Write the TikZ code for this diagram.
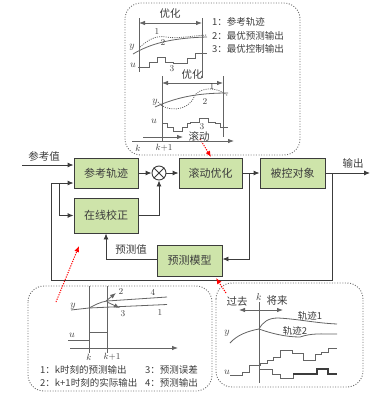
\documentclass[tikz,border=0pt]{standalone}
\usepackage{fontspec}
\newfontfamily\cjk{Noto Sans CJK SC}
\usetikzlibrary{arrows.meta}
\definecolor{boxfill}{RGB}{206,228,170}
\definecolor{ln}{RGB}{60,60,60}
\definecolor{gl}{RGB}{100,100,100}
\definecolor{dotc}{RGB}{110,110,110}
\begin{document}
\begin{tikzpicture}[x=1pt,y=-1pt,
  blk/.style={draw=ln, fill=boxfill, line width=0.9pt, minimum width=64pt, minimum height=30pt,
    font=\cjk\fontsize{11}{11}\selectfont, text=ln, inner sep=0pt},
  con/.style={draw=ln, line width=0.9pt},
  arr/.style={con, -{Latex[length=6pt,width=5pt]}},
  grp/.style={draw=dotc, line width=0.9pt, dash pattern=on 1pt off 1.6pt, rounded corners=16pt},
  ax/.style={draw=gl, line width=0.8pt},
  axarr/.style={ax, -{Latex[length=6pt,width=4.5pt]}},
  dbl/.style={ax, {Latex[length=6pt,width=4.5pt]}-{Latex[length=6pt,width=4.5pt]}},
  crv/.style={draw=gl, line width=0.8pt},
  dcrv/.style={draw=gl, line width=0.8pt, dash pattern=on 1pt off 1.2pt},
  lab/.style={font=\cjk\fontsize{10.5}{10.5}\selectfont, text=ln, inner sep=0pt},
  sml/.style={font=\cjk\fontsize{9.5}{9.5}\selectfont, text=ln, inner sep=0pt},
  mth/.style={font=\fontsize{10}{10}\selectfont, text=ln, inner sep=0pt},
  num/.style={font=\fontsize{9}{9}\selectfont, text=ln, inner sep=0pt},
  rarr/.style={draw=red, line width=1pt, dash pattern=on 1.2pt off 1.2pt, -{Latex[length=6pt,width=5pt]}}
]
\useasboundingbox (0,0) rectangle (375,394);

% ===== dotted group frames =====
\draw[grp] (125,3) rectangle (300,155);
\draw[grp] (28,286) rectangle (212,391);
\draw[grp] (216,283) rectangle (363,387);

% ===== main blocks =====
\node[blk] (ref) at (106,173) {参考轨迹};
\node[blk, minimum height=35pt] (fix) at (106,215.5) {在线校正};
\node[blk, minimum width=63pt] (opt) at (210.5,173) {滚动优化};
\node[blk, minimum width=65pt] (plant) at (292.5,173) {被控对象};
\node[blk, minimum width=65pt, minimum height=31pt] (model) at (189.5,260.5) {预测模型};
\node[draw=ln, fill=white, line width=0.9pt, circle, minimum size=14pt, inner sep=0pt] (sum) at (159,173) {};
\draw[ln, line width=0.9pt] (sum.north west) -- (sum.south east) (sum.north east) -- (sum.south west);

\coordinate (in) at (22,165);
\coordinate (out) at (370,173);
\coordinate (fb1) at (332,173);
\coordinate (fb2) at (332,280);
\coordinate (fb3) at (51,280);
\coordinate (br) at (59,183);
\coordinate (br2) at (249,173);

\node[lab] (lin) at (44,156) {参考值};
\node[lab] (lout) at (353,163) {输出};
\node[lab] (lpred) at (131,250) {预测值};

\draw[arr] (in) -- (in -| ref.west);
\draw[arr] (ref) -- (sum);
\draw[arr] (sum) -- (opt);
\draw[arr] (opt) -- (plant);
\draw[arr] (plant) -- (out);
\draw[arr] (fb1) -- (fb2) -- (fb3) |- ([yshift=-10pt]ref.west);
\draw[arr] (br) |- (fix.west);
\draw[arr] (fix.east) -| (sum.south);
\draw[arr] (br2) |- ([yshift=1.5pt]model.east);
\draw[arr] ([yshift=1.5pt]model.west) -| (fix.south);

% ===== red dotted pointers =====
\coordinate (ra1) at (200,139);
\coordinate (rb1) at (211,157);
\coordinate (ra2) at (56,302);
\coordinate (rb2) at (79,246);
\coordinate (ra3) at (226,293);
\coordinate (rb3) at (216,278);
\draw[rarr] (ra1) -- (rb1);
\draw[rarr] (ra2) -- (rb2);
\draw[rarr] (ra3) -- (rb3);

% ===== top frame: upper chart =====
\draw[ax] (139,18) -- (139,72);
\draw[ax] (202,18) -- (202,78);
\draw[dbl] (139,23) -- (202,23);
\node[lab] at (170,14) {优化};
\node[mth] at (132,47) {$y$};
\node[mth] at (133,65) {$u$};
\draw[crv] (133,54) .. controls (150,44) and (170,38) .. (207,37);
\draw[dcrv] (140,47) .. controls (148,40) and (156,35) .. (166,37) .. controls (176,39) and (190,36) .. (207,35);
\node[num] at (157,32) {1};
\node[num] at (163,43) {2};
\draw[crv] (138,67) -- (149,67) -- (149,62) -- (157,62) -- (157,57) -- (165,57) -- (165,62) -- (173,62) -- (173,63) -- (187,63) -- (187,58) -- (195,58) -- (195,53) -- (207,53);
\node[num] at (172,69) {3};
\node[sml, anchor=west] at (212,22) {1：参考轨迹};
\node[sml, anchor=west] at (212,35.5) {2：最优预测输出};
\node[sml, anchor=west] at (212,49) {3：最优控制输出};

% ===== top frame: lower chart =====
\draw[ax] (162,76) -- (162,141);
\draw[ax] (223,76) -- (223,137);
\draw[dbl] (162,83) -- (223,83);
\node[lab] at (192,75) {优化};
\node[mth] at (155,102) {$y$};
\node[mth] at (154,121) {$u$};
\draw[crv] (155,107) .. controls (175,98) and (195,93) .. (228,93);
\draw[dcrv] (158,102) .. controls (165,112) and (188,112) .. (194,97) .. controls (198,88) and (215,85) .. (228,96);
\node[num] at (212,87) {1};
\node[num] at (205,102) {2};
\draw[crv] (162,123) -- (167,123) -- (167,127) -- (173,127) -- (173,131) -- (182,131) -- (182,127) -- (187,127) -- (187,123) -- (190,123) -- (190,122) -- (199,122) -- (199,118) -- (208,118) -- (208,122) -- (215,122) -- (215,123) -- (220,123) -- (220,127) -- (228,127);
\node[num] at (202,127) {3};
\draw[axarr] (143,137) -- (183,137);
\node[lab] at (199,136) {滚动};
\draw[axarr] (132,141) -- (234,141);
\node[mth, font=\fontsize{9}{9}\selectfont] at (138,148) {$k$};
\node[mth, font=\fontsize{9}{9}\selectfont] at (164,148) {$k{+}1$};

% ===== bottom-left frame =====
\draw[ax] (89,286) -- (89,353);
\draw[ax] (107,286) -- (107,353);
\draw[axarr] (70,348) -- (178,348);
\node[mth, font=\fontsize{9}{9}\selectfont] at (89,357) {$k$};
\node[mth, font=\fontsize{9}{9}\selectfont] at (112,357) {$k{+}1$};
\node[mth] at (73,306) {$y$};
\draw[crv] (71,310) -- (89,308) -- (167,304.5);
\draw[crv] (89,308) .. controls (95,305) and (100,302) .. (107,301) -- (167,297);
\draw[crv, -{Latex[length=6pt,width=4.5pt]}] (106,301) -- (116,293);
\draw[crv, -{Latex[length=6pt,width=4.5pt]}] (107,302) -- (120,308);
\node[num] at (121,291) {2};
\node[num] at (123,314) {3};
\node[num] at (153,292) {4};
\node[num] at (160,312) {1};
\node[mth] at (72,335) {$u$};
\draw[crv] (68,340) -- (89,340);
\draw[crv] (89,332) -- (107,332);
\node[sml, anchor=west] at (40,370) {1：k时刻的预测输出};
\node[sml, anchor=west] at (145,370) {3：预测误差};
\node[sml, anchor=west] at (40,383) {2：k+1时刻的实际输出};
\node[sml, anchor=west] at (145,383) {4：预测输出};

% ===== bottom-right frame =====
\node[mth] at (259,297) {$k$};
\node[lab] at (237,301) {过去};
\node[lab] at (277,301) {将来};
\draw[dbl] (239,310) -- (283,310);
\draw[ax] (259,302) -- (259,383);
\node[mth] at (227,333) {$y$};
\draw[crv] (230,343) .. controls (237,335) and (248,331) .. (259,329);
\draw[crv] (259,329) .. controls (263,322) and (268,318) .. (278,318) .. controls (298,319) and (315,323) .. (337,324);
\draw[crv] (259,329) .. controls (270,333) and (285,337) .. (300,337) .. controls (312,333) and (320,334) .. (337,334);
\node[sml] at (310,316) {轨迹1};
\node[sml] at (295,331) {轨迹2};
\node[mth] at (227,372) {$u$};
\draw[crv] (230,375) -- (242,375) -- (242,372) -- (249,372) -- (249,365) -- (260,365) -- (260,363) -- (267,363) -- (267,360) -- (273,360) -- (273,357) -- (280,357) -- (280,350) -- (292,350) -- (292,353) -- (303,353) -- (303,360) -- (315,360) -- (315,354) -- (321,354) -- (321,352) -- (328,352) -- (328,348) -- (337,348);
\draw[crv] (260,369) -- (272,369) -- (272,374) -- (280,374) -- (280,378) -- (293,378) -- (293,374);
\draw[draw=ln, line width=1.1pt] (293,374) -- (317,374) -- (317,369) -- (328,369) -- (328,374) -- (337,374);
\end{tikzpicture}
\end{document}
